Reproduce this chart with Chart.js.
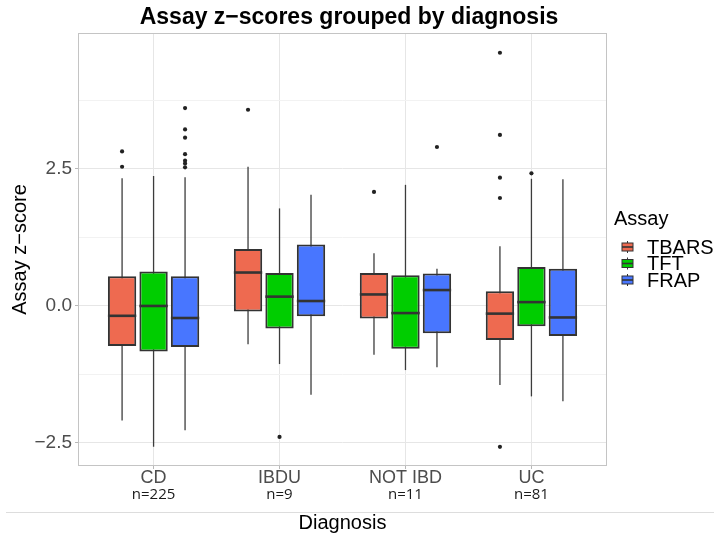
<!DOCTYPE html>
<html>
<head>
<meta charset="utf-8">
<script src="https://cdn.jsdelivr.net/npm/chart.js@4.4.1/dist/chart.umd.min.js"></script>
<style>
  body { margin: 0; background: #fff; }
  canvas { display: block; }
</style>
</head>
<body>
<canvas id="myChart" width="714" height="538"></canvas>
<script>
const categories = ["CD", "IBDU", "NOT IBD", "UC"];
const counts = [225, 9, 11, 81];
const assays = ["TBARS", "TFT", "FRAP"];
const colorHex = ["#EE6A50", "#00CD00", "#4876FF"];

// [lower whisker, q1, median, q3, upper whisker] per diagnosis
const tbarsStats = [[-2.09, -0.73, -0.18, 0.54, 2.33], [-0.70, -0.10, 0.61, 1.04, 2.54], [-0.89, -0.23, 0.21, 0.60, 0.96], [-1.44, -0.62, -0.14, 0.27, 1.09]];
const tftStats = [[-2.57, -0.83, 0.00, 0.63, 2.37], [-1.06, -0.41, 0.17, 0.60, 1.78], [-1.17, -0.78, -0.13, 0.56, 2.21], [-1.65, -0.37, 0.07, 0.71, 2.32]];
const frapStats = [[-2.27, -0.75, -0.22, 0.54, 2.35], [-1.62, -0.19, 0.09, 1.12, 2.03], [-1.12, -0.50, 0.29, 0.59, 0.68], [-1.74, -0.55, -0.21, 0.68, 2.31]];

const tbarsOut = [[2.82, 2.54], [3.58], [2.08], [4.62, 3.12, 2.34, 1.97, -2.57]];
const tftOut = [[], [-2.39], [], [2.42]];
const frapOut = [[3.61, 3.22, 3.07, 2.77, 2.65, 2.60, 2.53], [], [2.90], []];

const yMin = -2.92, yMax = 4.98;

Chart.defaults.font.family = "'Liberation Sans', Arial, sans-serif";

function boxData(stats) {
  return stats.map((s, i) => ({ x: i + 1, y: [s[1], s[3]] }));
}

const allStats = [tbarsStats, tftStats, frapStats];
const allOut = [tbarsOut, tftOut, frapOut];

const isMajor = v => Math.abs(v / 2.5 - Math.round(v / 2.5)) < 1e-6;

// whiskers, medians, outliers, panel border, legend, title and n labels
const boxParts = {
  id: "boxParts",
  beforeDatasetsDraw(chart) {
    const { ctx, scales: { y } } = chart;
    ctx.save();
    ctx.strokeStyle = "#3c3c3c";
    ctx.lineWidth = 1.3;
    chart.data.datasets.forEach((ds, d) => {
      chart.getDatasetMeta(d).data.forEach((bar, i) => {
        const s = allStats[d][i];
        ctx.beginPath();
        ctx.moveTo(bar.x, y.getPixelForValue(s[0]));
        ctx.lineTo(bar.x, y.getPixelForValue(s[4]));
        ctx.stroke();
      });
    });
    ctx.restore();
  },
  afterDatasetsDraw(chart) {
    const { ctx, chartArea: a, scales: { y } } = chart;
    ctx.save();
    chart.data.datasets.forEach((ds, d) => {
      chart.getDatasetMeta(d).data.forEach((bar, i) => {
        const p = bar.getProps(["x", "width"], true);
        const ym = y.getPixelForValue(allStats[d][i][2]);
        ctx.strokeStyle = "#333";
        ctx.lineWidth = 2.6;
        ctx.beginPath();
        ctx.moveTo(p.x - p.width / 2, ym);
        ctx.lineTo(p.x + p.width / 2, ym);
        ctx.stroke();
        ctx.fillStyle = "#222";
        allOut[d][i].forEach(v => {
          ctx.beginPath();
          ctx.arc(p.x, y.getPixelForValue(v), 2.1, 0, Math.PI * 2);
          ctx.fill();
        });
      });
    });
    ctx.strokeStyle = "#C4C4C4";
    ctx.lineWidth = 1;
    ctx.strokeRect(a.left + 0.5, a.top + 0.5, a.width - 1, a.height - 1);
    ctx.restore();
  },
  afterDraw(chart) {
    const { ctx, scales: { x } } = chart;
    ctx.save();
    // title
    ctx.font = "bold 23px 'Liberation Sans', Arial, sans-serif";
    ctx.fillStyle = "#000";
    ctx.textAlign = "center";
    ctx.textBaseline = "middle";
    ctx.fillText("Assay z\u2212scores grouped by diagnosis", 349, 18);
    // n= labels under the diagnosis names
    ctx.font = "15px 'Open Sans', sans-serif";
    ctx.fillStyle = "#1a1a1a";
    counts.forEach((n, i) => ctx.fillText("n=" + n, x.getPixelForValue(i + 1), 495));
    // separator line
    ctx.strokeStyle = "#DDDDDD";
    ctx.lineWidth = 1;
    ctx.beginPath();
    ctx.moveTo(6, 512.5);
    ctx.lineTo(714, 512.5);
    ctx.stroke();
    // legend
    ctx.textAlign = "left";
    ctx.fillStyle = "#000";
    ctx.font = "20px 'Liberation Sans', Arial, sans-serif";
    ctx.fillText("Assay", 614, 219);
    chart.data.datasets.forEach((ds, d) => {
      const cy = 247 + d * 16.5;
      const cx = 627.5;
      ctx.strokeStyle = "#333";
      ctx.lineWidth = 1;
      ctx.beginPath();
      ctx.moveTo(cx, cy - 6);
      ctx.lineTo(cx, cy + 6);
      ctx.stroke();
      ctx.fillStyle = ds.backgroundColor;
      ctx.fillRect(cx - 5.5, cy - 4, 11, 8);
      ctx.strokeRect(cx - 5.5, cy - 4, 11, 8);
      ctx.lineWidth = 1.6;
      ctx.beginPath();
      ctx.moveTo(cx - 5.5, cy);
      ctx.lineTo(cx + 5.5, cy);
      ctx.stroke();
      ctx.fillStyle = "#000";
      ctx.fillText(ds.label, 647, cy + 1);
    });
    ctx.restore();
  }
};

let ctx = document.getElementById("myChart").getContext("2d");

let myChart = new Chart(ctx, {
  type: "bar",
  data: {
    datasets: assays.map((name, d) => ({
      label: name,
      data: boxData(allStats[d]),
      backgroundColor: colorHex[d],
      borderColor: "#333333",
      borderWidth: 2,
      borderSkipped: false,
      barPercentage: 0.9,
      categoryPercentage: 0.75
    }))
  },
  options: {
    responsive: false,
    animation: false,
    events: [],
    layout: { padding: { left: 0, right: 107, top: 33, bottom: 0 } },
    plugins: {
      legend: { display: false },
      tooltip: { enabled: false }
    },
    scales: {
      x: {
        type: "linear",
        min: 0.4,
        max: 4.6,
        offset: false,
        afterFit: s => { s.height = 72; },
        ticks: {
          stepSize: 1,
          includeBounds: false,
          autoSkip: false,
          maxRotation: 0,
          padding: 0,
          color: "#4D4D4D",
          font: { size: 18, lineHeight: 1 },
          callback: v => categories[v - 1]
        },
        grid: { offset: false, color: "#E6E6E6", tickLength: 3, tickColor: "#B8B8B8" },
        border: { display: false },
        title: {
          display: true,
          text: "Diagnosis",
          color: "#000",
          font: { size: 20 },
          padding: { top: 0, bottom: 3 }
        }
      },
      y: {
        min: yMin,
        max: yMax,
        afterFit: s => { s.width = 78; },
        ticks: {
          stepSize: 1.25,
          includeBounds: false,
          padding: 3,
          color: "#4D4D4D",
          font: { size: 19 },
          callback: v => isMajor(v) ? (v < 0 ? "\u2212" : "") + Math.abs(v).toFixed(1) : ""
        },
        grid: {
          color: c => isMajor(c.tick.value) ? "#E6E6E6" : "#F2F2F2",
          tickLength: 3,
          tickColor: c => isMajor(c.tick.value) ? "#B8B8B8" : "rgba(0,0,0,0)"
        },
        border: { display: false },
        title: {
          display: true,
          text: "Assay z\u2212score",
          color: "#000",
          font: { size: 20 },
          padding: { top: 8, bottom: 0 }
        }
      }
    }
  },
  plugins: [boxParts]
});
</script>
</body>
</html>
